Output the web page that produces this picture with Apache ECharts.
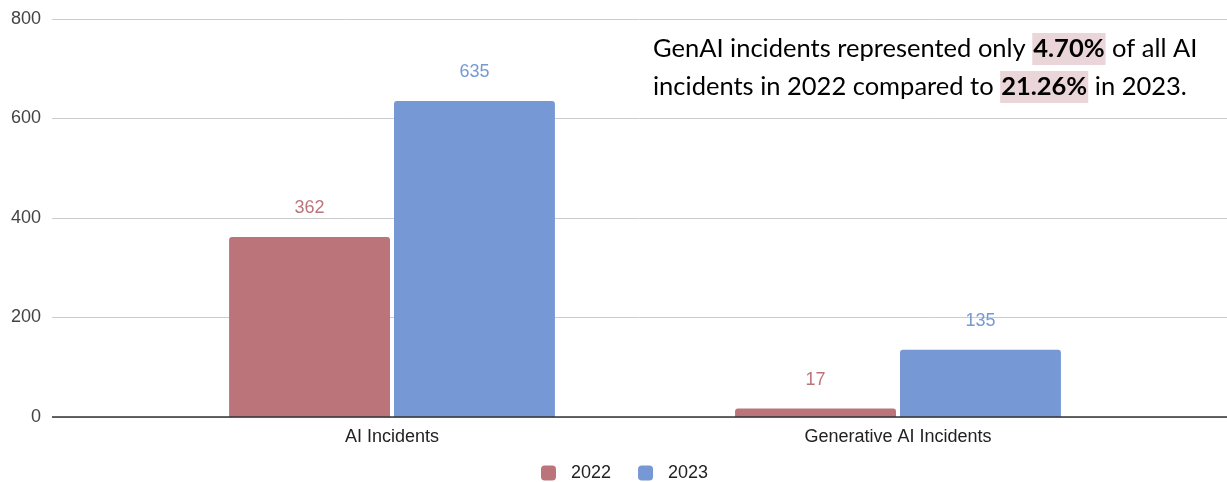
<!DOCTYPE html>
<html><head><meta charset="utf-8">
<script src="https://cdn.jsdelivr.net/npm/echarts@6/dist/echarts.min.js"></script>
<style>html,body{margin:0;padding:0;background:#fff}#c{width:1227px;height:482px}</style>
</head><body><div id="c"></div>
<script>
const categories = ['AI Incidents', 'Generative AI Incidents'];
const seriesNames = ['2022', '2023'];
const values2022 = [362, 17];
const values2023 = [635, 135];
const yTicks = [0, 200, 400, 600, 800];
const note = {
  pre1: 'GenAI incidents represented only ', hl1: '4.70%', post1: ' of all AI',
  pre2: 'incidents in 2022 compared to ', hl2: '21.26%', post2: ' in 2023.'
};
const colors = ['#bc747b', '#7698d4'];

const chart = echarts.init(document.getElementById('c'), null, {renderer: 'canvas'});
const yMin = yTicks[0], yMax = yTicks[yTicks.length - 1], yInt = yTicks[1] - yTicks[0];
const labelFont = {fontFamily: '"Liberation Sans", Arial, sans-serif', fontSize: 18};
chart.setOption({
  animation: false,
  grid: [
    {left: 52, right: 0, top: 19, bottom: 65},
    {left: 139, right: 76, top: 19, bottom: 65}
  ],
  xAxis: [
    {gridIndex: 0, type: 'category', data: categories, show: false},
    {gridIndex: 1, type: 'category', data: categories,
      axisLine: {show: false}, axisTick: {show: false},
      axisLabel: Object.assign({color: '#222', margin: 11}, labelFont)}
  ],
  yAxis: [
    {gridIndex: 0, type: 'value', min: yMin, max: yMax, interval: yInt,
      axisLine: {show: false}, axisTick: {show: false},
      splitLine: {lineStyle: {color: '#cccccc', width: 1}},
      axisLabel: Object.assign({color: '#444', margin: 11}, labelFont)},
    {gridIndex: 1, type: 'value', min: yMin, max: yMax, interval: yInt, show: false,
      splitLine: {show: false}}
  ],
  legend: {
    top: 464, left: 541, padding: 0, itemWidth: 15, itemHeight: 15, itemGap: 27,
    icon: 'roundRect',
    textStyle: Object.assign({color: '#222', padding: [0, 0, 0, 10]}, labelFont),
    data: seriesNames
  },
  series: [
    {name: seriesNames[0], type: 'bar', xAxisIndex: 1, yAxisIndex: 1, data: values2022,
      barCategoryGap: '35.6%', barGap: '2.5%',
      itemStyle: {color: colors[0], borderRadius: [3, 3, 0, 0]},
      label: Object.assign({show: true, position: 'top', distance: 20, color: colors[0]}, labelFont)},
    {name: seriesNames[1], type: 'bar', xAxisIndex: 1, yAxisIndex: 1, data: values2023,
      barCategoryGap: '35.6%', barGap: '2.5%',
      itemStyle: {color: colors[1], borderRadius: [3, 3, 0, 0]},
      label: Object.assign({show: true, position: 'top', distance: 20, color: colors[1]}, labelFont)},
    {type: 'line', xAxisIndex: 0, yAxisIndex: 0, data: [],
      markLine: {silent: true, symbol: 'none', label: {show: false},
        lineStyle: {color: '#333', width: 1.5, type: 'solid'}, data: [{yAxis: 0}]}}
  ],
  graphic: [{
    type: 'text', left: 653, top: 33,
    style: {
      text: '{n|' + note.pre1 + '}{h|' + note.hl1 + '}{n|' + note.post1 + '}\n{n|' + note.pre2 + '}{h|' + note.hl2 + '}{n|' + note.post2 + '}',
      rich: {
        n: {fontFamily: 'Lato, sans-serif', fontSize: 25.5, color: '#111', lineHeight: 38},
        h: {fontFamily: 'Lato, sans-serif', fontSize: 25.5, fontWeight: 'bold', color: '#111',
            backgroundColor: '#ead6d9', lineHeight: 38, padding: [3, 1, 3, 1]}
      }
    }
  }]
});
</script></body></html>
